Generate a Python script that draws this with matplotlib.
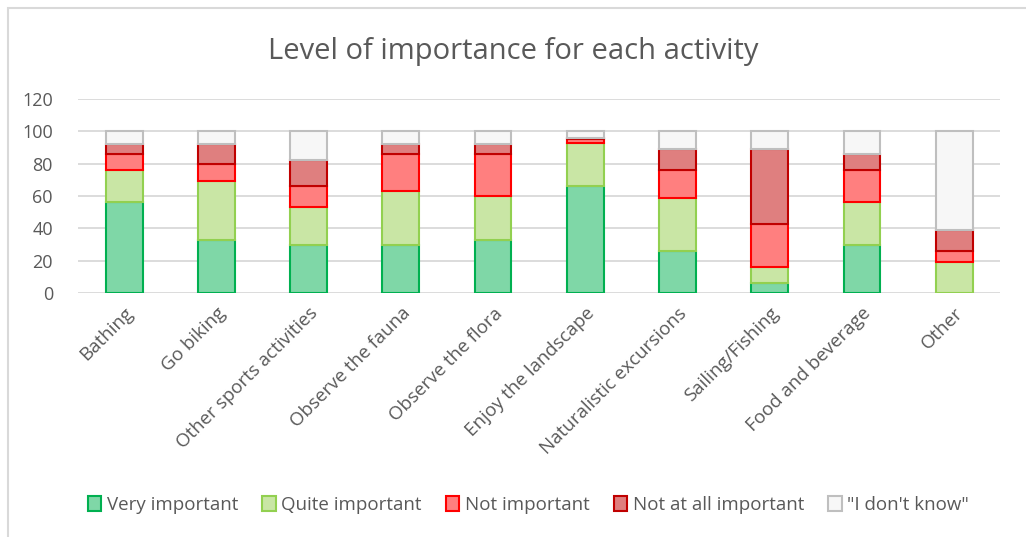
import numpy as np
import matplotlib.pyplot as plt
from matplotlib.patches import Rectangle

plt.rcParams['font.family'] = ['Open Sans', 'DejaVu Sans']

activities = ["Bathing", "Go biking", "Other sports activities", "Observe the fauna",
              "Observe the flora", "Enjoy the landscape", "Naturalistic excursions",
              "Sailing/Fishing", "Food and beverage", "Other"]

very_important = [56, 33, 30, 30, 33, 66, 26, 6, 30, 0]
quite_important = [20, 36, 23, 33, 27, 27, 33, 10, 26, 19.5]
not_important = [10, 11, 13, 23, 26, 2, 17, 27, 20, 6.5]
not_at_all = [6, 12, 16, 6, 6, 1, 13, 46, 10, 13]
dont_know = [8, 8, 18, 8, 8, 4, 11, 11, 14, 61]

series = [
    ("Very important", very_important, "#7fd7a7", "#00b050"),
    ("Quite important", quite_important, "#c9e6a5", "#92d050"),
    ("Not important", not_important, "#ff7f7f", "#ff0000"),
    ("Not at all important", not_at_all, "#df7f7f", "#c00000"),
    ('"I don\'t know"', dont_know, "#f7f7f7", "#bfbfbf"),
]

fig = plt.figure(figsize=(10.26, 5.37), dpi=100)
ax = fig.add_axes([0.076, 0.454, 0.899, 0.362])

x = np.arange(len(activities))
bottom = np.zeros(len(activities))
for name, vals, fill, edge in series:
    vals = np.array(vals, dtype=float)
    ax.bar(x, vals, 0.4, bottom=bottom, color=fill, edgecolor=edge,
           linewidth=1.5, label=name, zorder=3)
    bottom += vals

ax.set_xlim(-0.5, len(activities) - 0.5)
ax.set_ylim(0, 120)
ax.set_yticks(range(0, 121, 20))
ax.grid(axis='y', color='#d9d9d9', linewidth=1.3, zorder=0)
for s in ax.spines.values():
    s.set_visible(False)
ax.tick_params(length=0, colors='#595959', labelsize=13)
ax.tick_params(axis='y', pad=18)
ax.tick_params(axis='x', pad=8)
ax.set_xticks(x)
ax.set_xticklabels(activities, rotation=45, ha='right', rotation_mode='anchor', fontsize=13.5)

fig.text(0.5, 0.905, "Level of importance for each activity", ha='center', va='center',
         fontsize=21, color='#595959')

leg = fig.legend(loc='center', bbox_to_anchor=(0.515, 0.06), ncol=5, frameon=False,
                 fontsize=13.5, handlelength=0.7, handleheight=0.9, handletextpad=0.3,
                 columnspacing=1.3, labelcolor='#595959')

fig.patches.append(Rectangle((8 / 1026, -0.1), 1.2, 1 - 8 / 537 + 0.1,
                             transform=fig.transFigure, fill=False,
                             edgecolor='#d9d9d9', linewidth=1.5))

fig.savefig("out.png", dpi=100)
